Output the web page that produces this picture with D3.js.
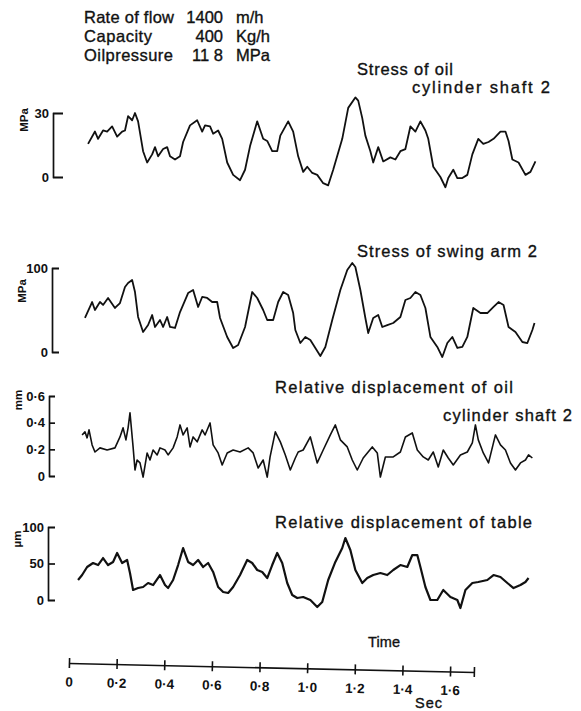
<!DOCTYPE html>
<html>
<head>
<meta charset="utf-8">
<script src="https://cdn.jsdelivr.net/npm/d3@7"></script>
<style>
  html, body { margin: 0; padding: 0; background: #fff; }
  svg { display: block; }
  text { font-family: "Liberation Sans", Arial, sans-serif; fill: #111; }
  .heavy { stroke: #111; stroke-width: 0.35px; }
</style>
</head>
<body>
<svg id="chart" width="581" height="711"></svg>
<script>
// Test conditions
const conditionNames = ["Rate of flow", "Capacity", "Oilpressure"];
const conditionValues = ["1400", "400", "11 8"];
const conditionUnits = ["m/h", "Kg/h", "MPa"];

// Time axis (s)
const timeTicks = [0, 0.2, 0.4, 0.6, 0.8, 1.0, 1.2, 1.4, 1.6];
const timeTickLabels = ["0", "0·2", "0·4", "0·6", "0·8", "1·0", "1·2", "1·4", "1·6"];
const timeEnd = 1.7;

// Stress of oil cylinder shaft 2 (MPa)
const shaftStressT = [0.080,0.109,0.122,0.143,0.160,0.181,0.202,0.223,0.235,0.248,0.265,0.277,0.290,0.311,0.328,0.349,0.361,0.374,0.395,0.412,0.424,0.445,0.466,0.479,0.508,0.538,0.559,0.571,0.592,0.605,0.626,0.643,0.664,0.689,0.718,0.739,0.760,0.790,0.815,0.832,0.853,0.874,0.887,0.920,0.941,0.962,0.983,1.000,1.021,1.042,1.067,1.088,1.109,1.147,1.172,1.202,1.214,1.231,1.244,1.265,1.277,1.298,1.319,1.349,1.370,1.391,1.412,1.433,1.454,1.475,1.496,1.508,1.529,1.559,1.580,1.592,1.613,1.630,1.651,1.672,1.693,1.718,1.739,1.761,1.782,1.811,1.832,1.845,1.861,1.887,1.916,1.937,1.958];
const shaftStress = [15.5,21.3,17.9,21.8,21.3,23.7,18.9,21.3,21.8,28.5,26.6,30.0,26.1,12.1,6.8,10.6,14.0,9.7,13.1,14.0,9.7,8.2,9.7,16.4,24.2,26.6,21.3,24.2,23.7,20.3,21.8,17.9,6.8,1.0,-1.5,3.4,14.5,26.1,17.9,16.9,12.1,12.1,19.4,26.1,21.3,9.7,2.4,4.8,1.9,1.0,-2.9,-3.9,3.4,17.9,32.4,37.3,35.8,27.6,19.4,12.1,6.8,14.0,7.3,9.2,8.2,12.1,13.1,23.7,21.3,26.1,21.8,17.9,4.8,0.0,-4.8,-0.5,3.4,-0.5,-0.5,1.0,10.6,17.9,15.5,16.4,17.9,21.3,21.3,16.9,8.2,6.8,1.0,2.4,7.3];

// Stress of swing arm 2 (MPa)
const armStressT = [0.067,0.097,0.109,0.130,0.143,0.164,0.193,0.214,0.235,0.248,0.265,0.277,0.290,0.311,0.332,0.349,0.361,0.382,0.395,0.412,0.424,0.445,0.466,0.479,0.500,0.521,0.542,0.559,0.580,0.601,0.622,0.634,0.664,0.689,0.710,0.739,0.769,0.790,0.815,0.832,0.857,0.878,0.899,0.920,0.941,0.950,0.971,0.992,1.013,1.034,1.055,1.076,1.105,1.139,1.168,1.189,1.202,1.223,1.244,1.256,1.277,1.298,1.315,1.336,1.361,1.391,1.412,1.433,1.454,1.475,1.496,1.517,1.546,1.567,1.588,1.609,1.630,1.651,1.672,1.697,1.727,1.756,1.782,1.803,1.824,1.845,1.874,1.903,1.924,1.945,1.954];
const armStress = [40.5,59.5,50.0,59.5,56.0,64.3,52.4,58.3,77.4,82.1,85.7,71.4,41.7,23.8,32.1,44.0,29.8,38.1,29.8,41.7,29.8,28.6,47.6,56.0,70.2,73.8,53.6,65.5,64.3,59.5,59.5,40.5,17.9,4.8,8.3,29.8,71.4,64.3,50.0,38.1,38.1,59.5,71.4,67.9,46.4,26.2,10.7,17.9,14.3,4.8,-4.8,6.0,38.1,73.8,97.6,106.0,101.2,73.8,40.5,22.6,40.5,44.0,29.8,32.1,34.5,41.7,61.9,64.3,71.4,67.9,52.4,17.9,6.0,-6.0,10.7,17.9,4.8,6.0,17.9,52.4,46.4,46.4,53.6,59.5,56.0,29.8,23.8,11.9,10.7,26.2,34.5];

// Relative displacement of oil cylinder shaft 2 (mm)
const shaftDispT = [0.055,0.067,0.076,0.084,0.097,0.109,0.130,0.160,0.193,0.214,0.227,0.239,0.248,0.256,0.269,0.277,0.286,0.298,0.311,0.328,0.340,0.353,0.370,0.382,0.403,0.416,0.437,0.454,0.466,0.479,0.496,0.508,0.521,0.538,0.559,0.571,0.592,0.605,0.626,0.643,0.664,0.689,0.718,0.752,0.773,0.794,0.815,0.832,0.844,0.866,0.887,0.908,0.929,0.950,0.962,0.983,1.013,1.042,1.067,1.097,1.118,1.139,1.168,1.189,1.210,1.235,1.273,1.294,1.307,1.328,1.361,1.391,1.412,1.441,1.462,1.487,1.508,1.529,1.550,1.571,1.592,1.613,1.643,1.672,1.693,1.706,1.718,1.739,1.761,1.790,1.811,1.832,1.853,1.874,1.895,1.916,1.929,1.945];
const shaftDisp = [0.308,0.331,0.286,0.346,0.233,0.180,0.211,0.195,0.211,0.293,0.361,0.271,0.361,0.474,0.218,0.045,0.120,0.098,-0.008,0.173,0.120,0.195,0.158,0.211,0.195,0.158,0.211,0.293,0.383,0.308,0.361,0.218,0.293,0.256,0.346,0.308,0.398,0.233,0.173,0.083,0.173,0.195,0.180,0.211,0.173,0.060,0.120,-0.008,0.143,0.331,0.256,0.158,0.045,0.135,0.180,0.195,0.293,0.098,0.195,0.308,0.383,0.271,0.218,0.120,0.045,0.135,0.218,0.173,-0.008,0.143,0.143,0.180,0.293,0.323,0.195,0.143,0.120,0.180,0.068,0.195,0.135,0.083,0.158,0.180,0.248,0.383,0.271,0.173,0.098,0.308,0.233,0.195,0.098,0.045,0.098,0.120,0.158,0.135];

// Relative displacement of table (µm)
const tableDispT = [0.038,0.055,0.076,0.101,0.122,0.143,0.164,0.185,0.202,0.223,0.244,0.256,0.269,0.290,0.311,0.332,0.353,0.382,0.403,0.416,0.437,0.458,0.479,0.500,0.521,0.542,0.563,0.584,0.605,0.626,0.647,0.668,0.689,0.718,0.748,0.769,0.790,0.811,0.832,0.853,0.874,0.895,0.916,0.937,0.958,0.983,1.013,1.042,1.063,1.088,1.118,1.147,1.160,1.181,1.202,1.231,1.252,1.277,1.307,1.336,1.361,1.391,1.420,1.441,1.462,1.475,1.496,1.517,1.546,1.571,1.601,1.630,1.643,1.664,1.693,1.718,1.756,1.782,1.811,1.840,1.866,1.895,1.916,1.929];
const tableDisp = [27.4,34.2,45.2,50.7,47.9,57.5,47.9,52.1,64.4,50.7,54.8,37.0,13.7,16.4,17.8,23.3,20.5,34.2,20.5,16.4,27.4,47.9,71.2,52.1,47.9,54.8,45.2,50.7,38.4,17.8,11.0,9.6,17.8,34.2,54.8,50.7,41.1,38.4,30.1,47.9,64.4,50.7,23.3,6.8,2.7,4.1,0.0,-9.6,-2.7,27.4,52.1,71.2,84.9,68.5,41.1,23.3,30.1,34.2,37.0,34.2,41.1,47.9,45.2,61.6,61.6,45.2,17.8,0.0,0.0,13.7,4.1,0.0,-11.0,13.7,23.3,24.7,27.4,34.2,31.5,23.3,16.4,20.5,24.7,30.1];

// Y-axis tick values and labels per panel
const shaftStressTicks = [0, 30];
const shaftStressTickLabels = ["0", "30"];
const armStressTicks = [0, 100];
const armStressTickLabels = ["0", "100"];
const shaftDispTicks = [0, 0.2, 0.4, 0.6];
const shaftDispTickLabels = ["0", "0·2", "0·4", "0·6"];
const tableDispTicks = [0, 50, 100];
const tableDispTickLabels = ["0", "50", "100"];

const svg = d3.select("#chart");
svg.append("rect").attr("width", 581).attr("height", 711).attr("fill", "#fff");

// Shared time scale
const x = d3.scaleLinear().domain([0, timeEnd]).range([69, 474]);

// Text helper: wide-set lettering fitted to a given run length
function label(txt, tx, ty, size, len) {
  const t = svg.append("text").attr("class", "heavy")
    .attr("x", tx).attr("y", ty).attr("font-size", size).text(txt);
  if (len) t.attr("textLength", len).attr("lengthAdjust", "spacing");
  return t;
}

// Header block
const nameLens = [90, 68, 89];
conditionNames.forEach((name, i) => {
  const y = 23 + i * 19;
  label(name, 84, y, 16.5, nameLens[i]);
  label(conditionValues[i], 223, y, 16.5).attr("text-anchor", "end");
  label(conditionUnits[i], 236, y, 16.5);
});

const panels = [
  { t: shaftStressT, v: shaftStress, domain: [0, 30], range: [177, 113], ticks: shaftStressTicks,
    labels: shaftStressTickLabels, axisX: 53, tick: 10, unit: "MPa", unitPos: [25, 120],
    title: [["Stress of oil", 357, 75, 96], ["cylinder shaft 2", 412, 93, 138]], width: 1.8 },
  { t: armStressT, v: armStress, domain: [0, 100], range: [352, 268], ticks: armStressTicks,
    labels: armStressTickLabels, axisX: 52, tick: 7, unit: "MPa", unitPos: [23, 291],
    title: [["Stress of swing arm 2", 357, 257, 180]], width: 1.8 },
  { t: shaftDispT, v: shaftDisp, domain: [0, 0.6], range: [476, 396], ticks: shaftDispTicks,
    labels: shaftDispTickLabels, axisX: 49, tick: 6, unit: "mm", unitPos: [19, 400],
    title: [["Relative displacement of oil", 275, 393, 238], ["cylinder shaft 2", 443, 421, 129]], width: 1.6 },
  { t: tableDispT, v: tableDisp, domain: [0, 100], range: [600, 527], ticks: tableDispTicks,
    labels: tableDispTickLabels, axisX: 48, tick: 7, unit: "µm", unitPos: [18, 539],
    title: [["Relative displacement of table", 275, 528, 257]], width: 2.2 }
];

panels.forEach(p => {
  const y = d3.scaleLinear().domain(p.domain).range(p.range);

  // Bracket-style value axis: ticks point inward toward the trace
  const axis = d3.axisLeft(y)
    .tickValues(p.ticks)
    .tickFormat((d, i) => p.labels[i])
    .tickSizeInner(-p.tick)
    .tickSizeOuter(-p.tick)
    .tickPadding(4);
  const g = svg.append("g")
    .attr("transform", `translate(${p.axisX},0)`)
    .call(axis);
  g.selectAll("path, line").attr("stroke", "#111").attr("stroke-width", 1.7);
  g.selectAll("text").attr("font-size", 13).attr("fill", "#111")
    .attr("font-family", "'Liberation Sans', Arial, sans-serif").attr("font-weight", "bold");

  // Unit label, rotated
  svg.append("text")
    .attr("transform", `translate(${p.unitPos[0]},${p.unitPos[1]}) rotate(-90)`)
    .attr("text-anchor", "middle")
    .attr("dominant-baseline", "middle")
    .attr("font-size", 11.5)
    .attr("font-weight", "bold")
    .text(p.unit);

  // Title
  p.title.forEach(([txt, tx, ty, len]) => label(txt, tx, ty, 16.5, len));

  // Trace
  const line = d3.line()
    .x((d, i) => x(p.t[i]))
    .y(d => y(d));
  svg.append("path")
    .datum(p.v)
    .attr("d", line)
    .attr("fill", "none")
    .attr("stroke", "#111")
    .attr("stroke-width", p.width)
    .attr("stroke-linejoin", "round");
});

// Time axis, drawn slightly tilted
const tickSet = timeTicks.concat([timeEnd]);
const timeAxis = d3.axisBottom(x)
  .tickValues(tickSet)
  .tickFormat((d, i) => i < timeTickLabels.length ? timeTickLabels[i] : "")
  .tickSizeOuter(0)
  .tickSizeInner(5)
  .tickPadding(9);
const tg = svg.append("g")
  .attr("transform", "translate(0,661.5) rotate(1.27)")
  .call(timeAxis);
tg.selectAll("path").attr("stroke", "#111").attr("stroke-width", 1.6);
tg.selectAll(".tick line").attr("y1", -5).attr("y2", 5).attr("stroke", "#111").attr("stroke-width", 1.6);
tg.selectAll("text").attr("font-size", 13.5).attr("fill", "#111")
  .attr("font-family", "'Liberation Sans', Arial, sans-serif").attr("font-weight", "bold");

label("Time", 368, 647, 14.5, 32);
label("Sec", 415, 708, 14.5, 27);
</script>
</body>
</html>
